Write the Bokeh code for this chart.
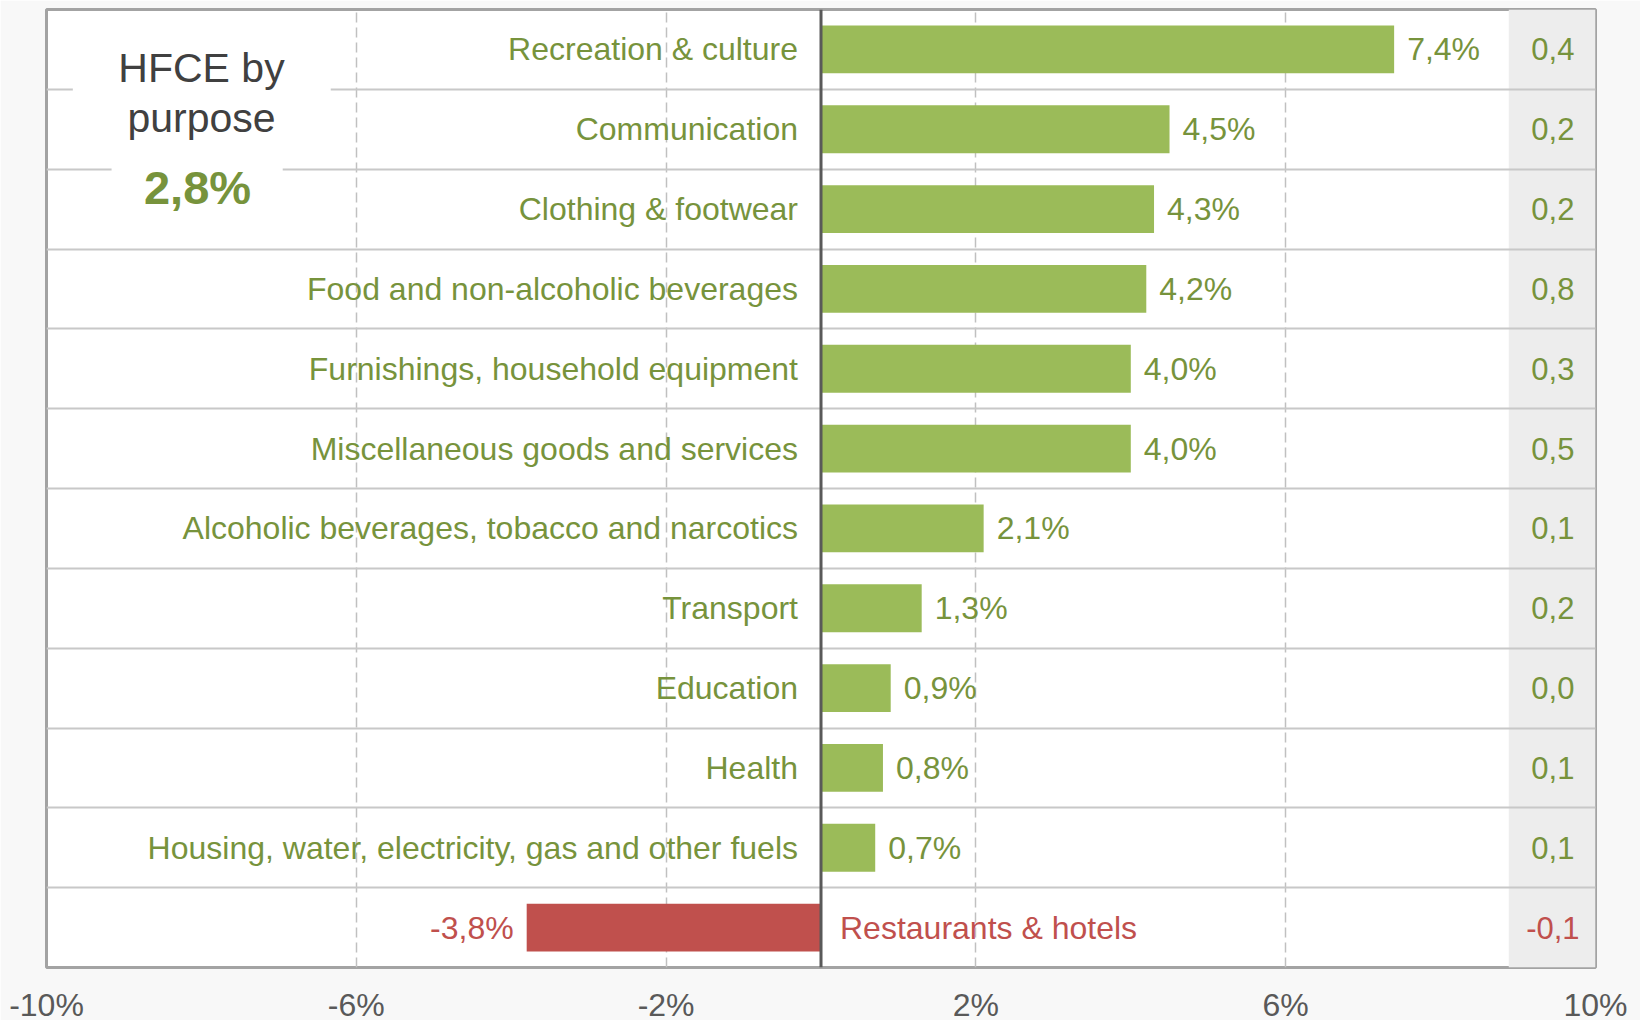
from bokeh.plotting import figure
from bokeh.models import (ColumnDataSource, Range1d, FixedTicker, Span, BoxAnnotation, Label)
from bokeh.embed import file_html
from bokeh.resources import INLINE
from bokeh.core.properties import value

# ---- data ----
categories = ["Recreation & culture", "Communication", "Clothing & footwear",
              "Food and non-alcoholic beverages", "Furnishings, household equipment",
              "Miscellaneous goods and services", "Alcoholic beverages, tobacco and narcotics",
              "Transport", "Education", "Health",
              "Housing, water, electricity, gas and other fuels", "Restaurants & hotels"]
growth = [7.4, 4.5, 4.3, 4.2, 4.0, 4.0, 2.1, 1.3, 0.9, 0.8, 0.7, -3.8]
contribution = [0.4, 0.2, 0.2, 0.8, 0.3, 0.5, 0.1, 0.2, 0.0, 0.1, 0.1, -0.1]
total_growth = 2.8
x_ticks = [-10, -6, -2, 2, 6, 10]
tick_labels = {-10: "-10%", -6: "-6%", -2: "-2%", 2: "2%", 6: "6%", 10: "10%"}

GREEN_BAR = "#9BBB59"
GREEN_TXT = "#77933C"
RED = "#C0504D"
FONT = "Liberation Sans"

n = len(categories)
fmt = lambda v: f"{v:.1f}".replace(".", ",")
ypos = [n - 0.5 - i for i in range(n)]
pos = [g >= 0 for g in growth]
src = ColumnDataSource(dict(
    cat=categories, g=growth, y=ypos,
    zero=[0.0] * n,
    gl=[fmt(g) + "%" for g in growth],
    cl=[fmt(c) for c in contribution],
    bar_color=[GREEN_BAR if p else RED for p in pos],
    txt_color=[GREEN_TXT if p else RED for p in pos],
    val_align=["left" if p else "right" for p in pos],
    val_off=[13 if p else -13 for p in pos],
    cat_align=["right" if p else "left" for p in pos],
    cat_off=[-23 if p else 19 for p in pos],
    col_x=[9.45] * n,
))

p = figure(output_backend="svg", toolbar_location=None,
           frame_width=1549, frame_height=958,
           min_border_left=46, min_border_right=45, min_border_top=9, min_border_bottom=52,
           x_range=Range1d(-10, 10), y_range=Range1d(0, n))
p.border_fill_color = "#F8F8F8"
p.background_fill_color = "white"
p.outline_line_color = "#A3A3A3"
p.outline_line_width = 3

# shaded contribution column
p.add_layout(BoxAnnotation(left=8.88, right=10, fill_color="#EDEDED", fill_alpha=1,
                           line_alpha=0, level="image"))

# axes
p.yaxis.visible = False
p.xaxis.ticker = FixedTicker(ticks=x_ticks)
p.xaxis.major_label_overrides = tick_labels
p.xaxis.axis_line_color = None
p.xaxis.major_tick_line_color = None
p.xaxis.minor_tick_line_color = None
p.xaxis.major_label_standoff = 13
p.xaxis.major_label_text_font = FONT
p.xaxis.major_label_text_font_size = "32px"
p.xaxis.major_label_text_color = "#595959"

p.xgrid.ticker = FixedTicker(ticks=x_ticks)
p.xgrid.grid_line_color = "#C0C0C0"
p.xgrid.grid_line_dash = "10 5"
p.xgrid.grid_line_width = 1.5
p.ygrid.ticker = FixedTicker(ticks=list(range(1, n)))
p.ygrid.grid_line_color = "#C8C8C8"
p.ygrid.grid_line_width = 2

# bars
p.hbar(y="y", left="zero", right="g", height=0.6, source=src,
       fill_color="bar_color", line_color=None)

# white boxes behind the title text (cover row separators)
p.quad(left=[-9.66], right=[-6.33], bottom=[n - 1.15], top=[n - 0.85],
       fill_color="white", line_color=None)
p.quad(left=[-9.16], right=[-6.95], bottom=[n - 2.15], top=[n - 1.85],
       fill_color="white", line_color=None)

# value labels
p.text(x="g", y="y", text="gl", source=src, text_align="val_align", x_offset="val_off",
       text_baseline="middle", text_color="txt_color", text_font=value(FONT),
       text_font_size="32px")
# category labels
p.text(x="zero", y="y", text="cat", source=src, text_align="cat_align", x_offset="cat_off",
       text_baseline="middle", text_color="txt_color", text_font=value(FONT),
       text_font_size="32px")
# contribution column
p.text(x="col_x", y="y", text="cl", source=src, text_align="center",
       text_baseline="middle", text_color="txt_color", text_font=value(FONT),
       text_font_size="31px")

# zero line
p.add_layout(Span(location=0, dimension="height", line_color="#595959", line_width=3))

# title box
p.add_layout(Label(x=155, y=900, x_units="screen", y_units="screen", text="HFCE by",
                   text_align="center", text_baseline="middle", text_font=FONT,
                   text_font_size="41px", text_color="#404040"))
p.add_layout(Label(x=155, y=850, x_units="screen", y_units="screen", text="purpose",
                   text_align="center", text_baseline="middle", text_font=FONT,
                   text_font_size="41px", text_color="#404040"))
p.add_layout(Label(x=151, y=780, x_units="screen", y_units="screen",
                   text=fmt(total_growth) + "%",
                   text_align="center", text_baseline="middle", text_font=FONT,
                   text_font_size="47px", text_font_style="bold", text_color=GREEN_TXT))

open("out.html", "w").write(file_html(p, INLINE))
